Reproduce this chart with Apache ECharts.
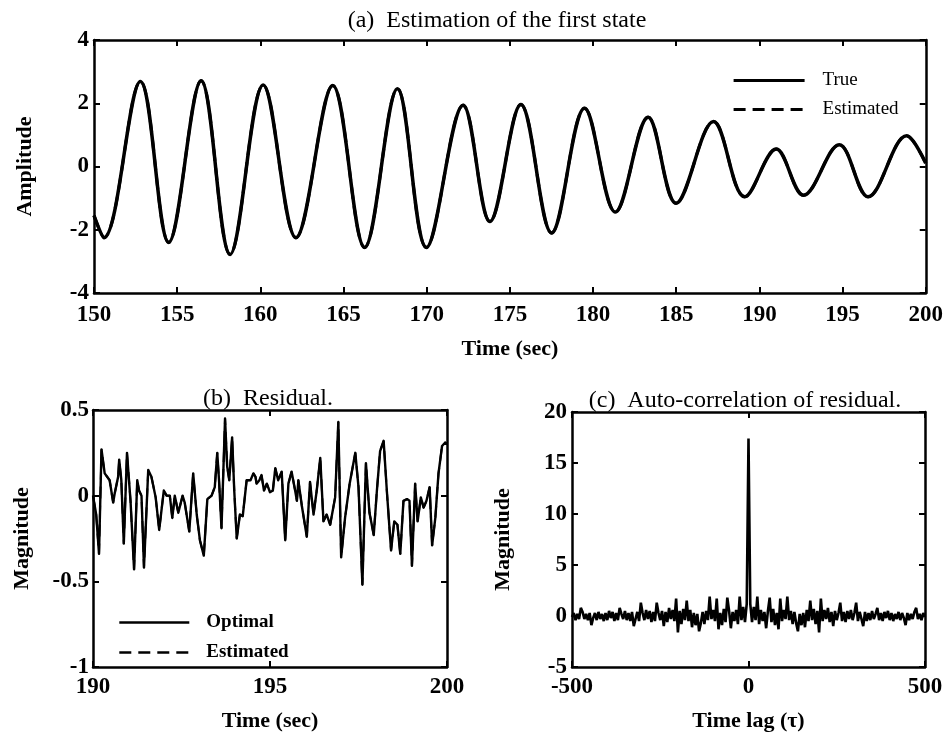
<!DOCTYPE html>
<html>
<head>
<meta charset="utf-8">
<script src="https://cdn.jsdelivr.net/npm/echarts@6/dist/echarts.min.js"></script>
<style>
  html, body { margin: 0; padding: 0; background: #fff; }
  #chart { width: 946px; height: 739px; }
</style>
</head>
<body>
<div id="chart"></div>
<script>
// (a) first state: turning points of the response (time in s, amplitude)
const stateTime = [150.00, 150.60, 152.79, 154.49, 156.44, 158.18, 160.17, 162.14, 164.35, 166.27,
                   168.24, 169.98, 172.19, 173.80, 175.66, 177.51, 179.49, 181.34, 183.31, 184.99,
                   187.24, 189.12, 191.01, 192.65, 194.80, 196.53, 198.85, 200.00];
const stateTrue = [-1.55, -2.25, 2.69, -2.40, 2.71, -2.78, 2.58, -2.25, 2.56, -2.56,
                   2.46, -2.56, 1.94, -1.74, 1.96, -2.10, 1.84, -1.44, 1.56, -1.16,
                   1.42, -0.96, 0.55, -0.91, 0.69, -0.96, 0.97, 0.10];
const stateEstimated = [-1.55, -2.25, 2.69, -2.40, 2.71, -2.78, 2.58, -2.25, 2.56, -2.56,
                   2.46, -2.56, 1.94, -1.74, 1.96, -2.10, 1.84, -1.44, 1.56, -1.16,
                   1.42, -0.96, 0.55, -0.91, 0.69, -0.96, 0.97, 0.10];

// (b) residual, 190-200 s
const resTime = [190.00, 190.09, 190.17, 190.24, 190.33, 190.40, 190.47, 190.57, 190.61, 190.71,
                 190.74, 190.80, 190.87, 190.96, 191.06, 191.16, 191.25, 191.30, 191.37, 191.44,
                 191.56, 191.65, 191.77, 191.87, 192.00, 192.08, 192.17, 192.24, 192.31, 192.41,
                 192.53, 192.59, 192.72, 192.83, 192.93, 193.02, 193.13, 193.23, 193.35, 193.44,
                 193.51, 193.56, 193.63, 193.73, 193.79, 193.85, 193.93, 193.99, 194.06, 194.15,
                 194.23, 194.34, 194.45, 194.53, 194.59, 194.62, 194.70, 194.76, 194.83, 194.91,
                 195.00, 195.08, 195.15, 195.23, 195.33, 195.43, 195.52, 195.61, 195.71, 195.76,
                 195.80, 195.90, 196.04, 196.13, 196.23, 196.32, 196.42, 196.51, 196.60, 196.70,
                 196.84, 196.93, 197.01, 197.12, 197.25, 197.41, 197.50, 197.61, 197.71, 197.81,
                 197.93, 198.02, 198.11, 198.21, 198.30, 198.42, 198.51, 198.60, 198.68, 198.77,
                 198.87, 198.94, 199.01, 199.10, 199.17, 199.26, 199.34, 199.42, 199.51, 199.58,
                 199.67, 199.76, 199.86, 199.95, 200.00];
const resOptimal = [0.00, -0.11, -0.34, 0.27, 0.13, 0.11, 0.09, -0.04, 0.01, 0.11,
                    0.21, 0.09, -0.28, 0.25, -0.03, -0.43, 0.09, 0.03, 0.00, -0.42,
                    0.15, 0.11, -0.01, -0.20, 0.03, 0.00, 0.00, -0.13, 0.00, -0.10,
                    0.00, -0.04, -0.21, 0.13, -0.11, -0.26, -0.35, -0.02, 0.00, 0.05,
                    0.25, 0.09, -0.19, 0.45, 0.17, 0.09, 0.34, 0.03, -0.25, -0.11,
                    -0.12, 0.09, 0.09, 0.13, 0.11, 0.07, 0.09, 0.12, 0.03, 0.07,
                    0.02, 0.03, 0.16, 0.09, 0.14, -0.26, 0.07, 0.14, 0.03, -0.03,
                    0.09, -0.06, -0.24, 0.08, -0.11, 0.03, 0.22, -0.15, -0.11, -0.17,
                    -0.01, 0.43, -0.36, -0.13, 0.07, 0.25, 0.05, -0.52, 0.19, -0.10,
                    -0.23, 0.03, 0.26, 0.32, 0.03, -0.32, -0.15, -0.17, -0.34, -0.03,
                    -0.02, -0.03, -0.41, 0.07, -0.15, -0.01, -0.07, -0.03, 0.05, -0.29,
                    -0.13, 0.13, 0.29, 0.31, 0.30];
const resEstimated = [0.00, -0.11, -0.34, 0.27, 0.13, 0.11, 0.09, -0.04, 0.01, 0.11,
                    0.21, 0.09, -0.28, 0.25, -0.03, -0.43, 0.09, 0.03, 0.00, -0.42,
                    0.15, 0.11, -0.01, -0.20, 0.03, 0.00, 0.00, -0.13, 0.00, -0.10,
                    0.00, -0.04, -0.21, 0.13, -0.11, -0.26, -0.35, -0.02, 0.00, 0.05,
                    0.25, 0.09, -0.19, 0.45, 0.17, 0.09, 0.34, 0.03, -0.25, -0.11,
                    -0.12, 0.09, 0.09, 0.13, 0.11, 0.07, 0.09, 0.12, 0.03, 0.07,
                    0.02, 0.03, 0.16, 0.09, 0.14, -0.26, 0.07, 0.14, 0.03, -0.03,
                    0.09, -0.06, -0.24, 0.08, -0.11, 0.03, 0.22, -0.15, -0.11, -0.17,
                    -0.01, 0.43, -0.36, -0.13, 0.07, 0.25, 0.05, -0.52, 0.19, -0.10,
                    -0.23, 0.03, 0.26, 0.32, 0.03, -0.32, -0.15, -0.17, -0.34, -0.03,
                    -0.02, -0.03, -0.41, 0.07, -0.15, -0.01, -0.07, -0.03, 0.05, -0.29,
                    -0.13, 0.13, 0.29, 0.31, 0.30];

// (c) auto-correlation of the residual against time lag
const lags = [-500,-495,-490,-485,-480,-475,-470,-465,-460,-455,-450,-445,-440,-435,-430,-425,-420,-415,-410,-405,
              -400,-395,-390,-385,-380,-375,-370,-365,-360,-355,-350,-345,-340,-335,-330,-325,-320,-315,-310,-305,
              -300,-295,-290,-285,-280,-275,-270,-265,-260,-255,-250,-245,-240,-235,-230,-225,-220,-215,-210,-205,
              -200,-195,-190,-185,-180,-175,-170,-165,-160,-155,-150,-145,-140,-135,-130,-125,-120,-115,-110,-105,
              -100,-95,-90,-85,-80,-75,-70,-65,-60,-55,-50,-45,-40,-35,-30,-25,-20,-15,-10,-5,
              0,
              5,10,15,20,25,30,35,40,45,50,55,60,65,70,75,80,85,90,95,100,
              105,110,115,120,125,130,135,140,145,150,155,160,165,170,175,180,185,190,195,200,
              205,210,215,220,225,230,235,240,245,250,255,260,265,270,275,280,285,290,295,300,
              305,310,315,320,325,330,335,340,345,350,355,360,365,370,375,380,385,390,395,400,
              405,410,415,420,425,430,435,440,445,450,455,460,465,470,475,480,485,490,495,500];
const acf = [-0.1, 0.3, -0.4, 0.2, -0.3, 0.8, 0.4, -0.3, 0.2, -0.4,
             0.3, -0.9, -0.2, 0.3, -0.4, 0.4, -0.3, 0.2, -0.5, 0.3,
             -0.4, 0.5, -0.2, 0.4, -0.5, 0.3, -0.4, 0.8, 0.2, -0.3,
             0.5, -0.4, 0.3, -0.5, 0.4, -1.0, -0.3, 0.4, -0.5, 1.3,
             0.3, -0.4, 0.6, -0.3, 0.5, -0.6, 0.4, -0.5, 1.3, 0.3,
             -0.4, 0.5, -1.0, 0.4, -0.6, 0.8, -0.3, 0.6, -0.5, 1.7,
             -1.6, 0.5, -0.8, 0.7, -0.4, 1.5, -0.5, 0.6, -1.1, 0.3,
             -0.9, 0.2, -1.5, -0.7, 0.4, -0.8, 0.5, -0.4, 1.9, -0.3,
             0.6, -0.5, 1.7, -1.3, 0.3, -0.9, 0.7, -0.6, 1.8, 0.5,
             -1.2, 0.4, -0.5, 0.6, -0.8, 1.9, -0.4, 0.9, -0.6, 1.2,
             17.4,
             1.2, -0.6, 0.9, -0.4, 1.9, -0.8, 0.6, -0.5, 0.4, -1.2,
             0.5, 1.8, -0.6, 0.7, -0.9, 0.3, -1.3, 1.7, -0.5, 0.6,
             -0.3, 1.9, -0.4, 0.5, -0.8, 0.4, -0.7, -1.5, 0.2, -0.9,
             0.3, -1.1, 0.6, -0.5, 1.5, -0.4, 0.7, -0.8, 0.5, -1.6,
             1.7, -0.5, 0.6, -0.3, 0.8, -0.6, 0.4, -1.0, 0.5, -0.4,
             0.3, 1.3, -0.5, 0.4, -0.6, 0.5, -0.3, 0.6, -0.4, 0.3,
             1.3, -0.5, 0.4, -0.3, -1.0, 0.4, -0.5, 0.3, -0.4, 0.5,
             -0.3, 0.2, 0.8, -0.4, 0.3, -0.5, 0.4, -0.2, 0.5, -0.4,
             0.3, -0.5, 0.2, -0.3, 0.4, -0.4, 0.3, -0.2, -0.9, 0.3,
             -0.4, 0.2, -0.3, 0.4, 0.8, -0.3, 0.2, -0.4, 0.3, -0.1];

const serif = '"Liberation Serif", "Times New Roman", serif';
const pairs = (xs, ys) => xs.map((x, i) => [x, ys[i]]);

const frame = { show: true, onZero: false, lineStyle: { color: '#000', width: 2.5 } };
const tick = { show: true, inside: true, length: 6, lineStyle: { color: '#000', width: 2 } };
const tickLabel = (margin) => ({
  show: true, margin: margin, color: '#000',
  fontFamily: serif, fontWeight: 'bold', fontSize: 23
});
const axisName = { fontFamily: serif, fontWeight: 'bold', fontSize: 22, color: '#000' };

// one framed panel = bottom/top x axes + left/right y axes
function xPair(grid, min, max, interval, name, gap, margin) {
  return [
    { type: 'value', gridIndex: grid, position: 'bottom', min, max, interval,
      axisLine: frame, axisTick: tick, splitLine: { show: false },
      axisLabel: tickLabel(margin),
      name, nameLocation: 'middle', nameGap: gap, nameTextStyle: axisName },
    { type: 'value', gridIndex: grid, position: 'top', min, max, interval,
      axisLine: frame, axisTick: tick, splitLine: { show: false }, axisLabel: { show: false } }
  ];
}
function yPair(grid, min, max, interval, name, gap, margin) {
  return [
    { type: 'value', gridIndex: grid, position: 'left', min, max, interval,
      axisLine: frame, axisTick: tick, splitLine: { show: false },
      axisLabel: tickLabel(margin),
      name, nameLocation: 'middle', nameGap: gap, nameRotate: 90, nameTextStyle: axisName },
    { type: 'value', gridIndex: grid, position: 'right', min, max, interval,
      axisLine: frame, axisTick: tick, splitLine: { show: false }, axisLabel: { show: false } }
  ];
}

const chart = echarts.init(document.getElementById('chart'), null, { renderer: 'canvas' });

const panelTitle = (text, x, y) => ({
  type: 'text', x, y,
  style: { text, fill: '#000', font: '24px ' + serif, align: 'center', verticalAlign: 'middle' }
});

const black = { color: '#000' };
// legend keys show only the line sample, no marker
const keyMarker = { opacity: 0 };

chart.setOption({
  animation: false,
  backgroundColor: '#fff',
  color: ['#000'],
  grid: [
    { left: 94, top: 40, width: 834, height: 253 },
    { left: 93, top: 410, width: 354, height: 257 },
    { left: 572, top: 412, width: 353, height: 255 }
  ],
  xAxis: [
    ...xPair(0, 150, 200, 5, 'Time (sec)', 45, 11),
    ...xPair(1, 190, 200, 5, 'Time (sec)', 43, 9),
    ...xPair(2, -500, 500, 500, 'Time lag (\u03c4)', 43, 9)
  ],
  yAxis: [
    ...yPair(0, -4, 4, 2, 'Amplitude', 58, 5),
    ...yPair(1, -1, 0.5, 0.5, 'Magnitude', 60, 4),
    ...yPair(2, -5, 20, 5, 'Magnitude', 58, 5)
  ],
  legend: [
    { data: ['True', 'Estimated'], orient: 'vertical', left: 727, top: 66,
      itemWidth: 71, itemHeight: 14, itemGap: 10, selectedMode: false,
      itemStyle: keyMarker, lineStyle: { width: 3.2 },
      textStyle: { fontFamily: serif, fontSize: 19, color: '#000', padding: [0, 0, 0, 13] } },
    { data: ['Optimal', 'Estimated'], orient: 'vertical', left: 113, top: 608,
      itemWidth: 70, itemHeight: 14, itemGap: 11, selectedMode: false,
      itemStyle: keyMarker, lineStyle: { width: 2.6 },
      textStyle: { fontFamily: serif, fontSize: 19, fontWeight: 'bold', color: '#000', padding: [0, 0, 0, 12] } }
  ],
  graphic: [
    panelTitle('(a)  Estimation of the first state', 497, 21),
    panelTitle('(b)  Residual.', 268, 399),
    panelTitle('(c)  Auto-correlation of residual.', 745, 401)
  ],
  series: [
    { name: 'Estimated', type: 'line', xAxisIndex: 0, yAxisIndex: 0,
      data: pairs(stateTime, stateEstimated), smooth: 0.36, symbol: 'none', itemStyle: black,
      lineStyle: { color: '#000', width: 3, type: [12, 7] } },
    { name: 'True', type: 'line', xAxisIndex: 0, yAxisIndex: 0,
      data: pairs(stateTime, stateTrue), smooth: 0.36, symbol: 'none', itemStyle: black,
      lineStyle: { color: '#000', width: 3.5, join: 'round' } },
    { name: 'Estimated', type: 'line', xAxisIndex: 2, yAxisIndex: 2,
      data: pairs(resTime, resEstimated), symbol: 'none', itemStyle: black,
      lineStyle: { color: '#000', width: 2, type: [12, 7] } },
    { name: 'Optimal', type: 'line', xAxisIndex: 2, yAxisIndex: 2,
      data: pairs(resTime, resOptimal), symbol: 'none', itemStyle: black,
      lineStyle: { color: '#000', width: 2.4, join: 'round' } },
    { name: 'Auto-correlation', type: 'line', xAxisIndex: 4, yAxisIndex: 4,
      data: pairs(lags, acf), symbol: 'none', itemStyle: black,
      lineStyle: { color: '#000', width: 2.6 } }
  ]
});
</script>
</body>
</html>
